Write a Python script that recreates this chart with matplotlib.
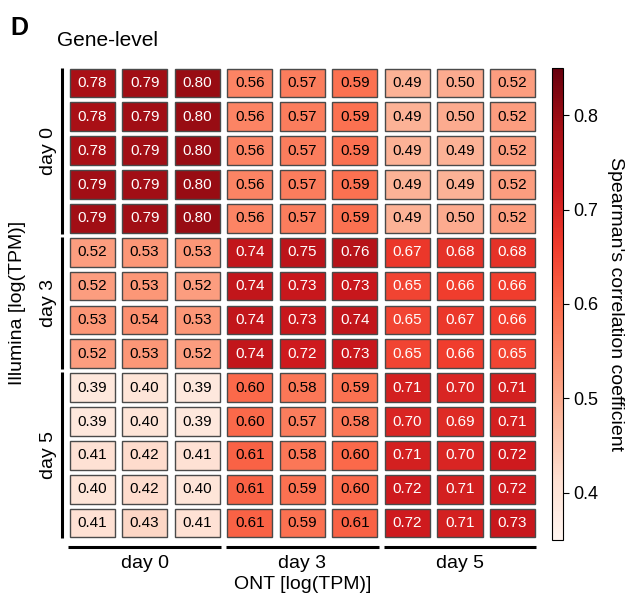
import numpy as np
import matplotlib
matplotlib.use('Agg')
import matplotlib.pyplot as plt
from matplotlib.patches import Rectangle
from matplotlib import colors, cm

plt.rcParams['font.family'] = ['Liberation Sans', 'DejaVu Sans']

# данные: строки = Illumina, столбцы = ONT
groups = ['day 0', 'day 3', 'day 5']
row_groups = [5, 4, 5]
col_groups = [3, 3, 3]

day0_rows = [
    [0.78, 0.79, 0.80, 0.56, 0.57, 0.59, 0.49, 0.50, 0.52],
    [0.78, 0.79, 0.80, 0.56, 0.57, 0.59, 0.49, 0.50, 0.52],
    [0.78, 0.79, 0.80, 0.56, 0.57, 0.59, 0.49, 0.49, 0.52],
    [0.79, 0.79, 0.80, 0.56, 0.57, 0.59, 0.49, 0.49, 0.52],
    [0.79, 0.79, 0.80, 0.56, 0.57, 0.59, 0.49, 0.50, 0.52],
]
day3_rows = [
    [0.52, 0.53, 0.53, 0.74, 0.75, 0.76, 0.67, 0.68, 0.68],
    [0.52, 0.53, 0.52, 0.74, 0.73, 0.73, 0.65, 0.66, 0.66],
    [0.53, 0.54, 0.53, 0.74, 0.73, 0.74, 0.65, 0.67, 0.66],
    [0.52, 0.53, 0.52, 0.74, 0.72, 0.73, 0.65, 0.66, 0.65],
]
day5_rows = [
    [0.39, 0.40, 0.39, 0.60, 0.58, 0.59, 0.71, 0.70, 0.71],
    [0.39, 0.40, 0.39, 0.60, 0.57, 0.58, 0.70, 0.69, 0.71],
    [0.41, 0.42, 0.41, 0.61, 0.58, 0.60, 0.71, 0.70, 0.72],
    [0.40, 0.42, 0.40, 0.61, 0.59, 0.60, 0.72, 0.71, 0.72],
    [0.41, 0.43, 0.41, 0.61, 0.59, 0.61, 0.72, 0.71, 0.73],
]
cbar_ticks = [0.4, 0.5, 0.6, 0.7, 0.8]

vals = np.array(day0_rows + day3_rows + day5_rows)
nrows, ncols = vals.shape

cmap = plt.get_cmap('Reds')
norm = colors.Normalize(vmin=0.35, vmax=0.85)

fig = plt.figure(figsize=(6.27, 5.99), dpi=100)
ax = fig.add_axes([0.105, 0.0985, 0.7544, 0.7913])
ax.set_xlim(0, ncols)
ax.set_ylim(nrows, 0)
ax.axis('off')

# клетки с зазором
px, py = 0.07, 0.075
for i in range(nrows):
    for j in range(ncols):
        v = vals[i, j]
        ax.add_patch(Rectangle((j + px, i + py), 1 - 2 * px, 1 - 2 * py,
                               facecolor=cmap(norm(v)), edgecolor='#4a4a4a', lw=1.0))
        tc = 'white' if v > 0.63 else 'black'
        ax.text(j + 0.5, i + 0.5, f'{v:.2f}', ha='center', va='center',
                fontsize=11, color=tc)

# скобки групп
start = 0
for g, n in zip(groups, row_groups):
    ax.plot([-0.08, -0.08], [start + 0.05, start + n - 0.05], color='black',
            lw=2.2, clip_on=False, solid_capstyle='butt')
    ax.text(-0.33, start + n / 2, g, rotation=90, ha='center', va='center',
            fontsize=14)
    start += n

start = 0
for g, n in zip(groups, col_groups):
    ax.plot([start + 0.05, start + n - 0.05], [nrows + 0.2, nrows + 0.2],
            color='black', lw=2.2, clip_on=False, solid_capstyle='butt')
    ax.text(start + n / 2, nrows + 0.7, g, ha='center', va='center',
            fontsize=14)
    start += n

ax.text(-0.92, nrows / 2, 'Illumina [log(TPM)]', rotation=90, ha='center',
        va='center', fontsize=14)
ax.text(ncols / 2, nrows + 1.3, 'ONT [log(TPM)]', ha='center', va='center',
        fontsize=14)

fig.text(10 / 627, 1 - 28 / 599, 'D', fontsize=18, fontweight='bold',
         ha='left', va='center')
fig.text(57 / 627, 1 - 40 / 599, 'Gene-level', fontsize=15, ha='left',
         va='center')

# цветовая шкала
cax = fig.add_axes([552 / 627, 1 - 540 / 599, 11 / 627, 472 / 599])
cb = fig.colorbar(cm.ScalarMappable(norm=norm, cmap=cmap), cax=cax,
                  ticks=cbar_ticks)
cb.ax.tick_params(labelsize=13, length=4)
cb.set_ticklabels([f'{t:.1f}' for t in cbar_ticks])
cb.set_label("Spearman's correlation coefficient", rotation=270,
             labelpad=18, fontsize=14)
cb.outline.set_linewidth(0.8)

fig.savefig('out.png', dpi=100)
plt.close(fig)
